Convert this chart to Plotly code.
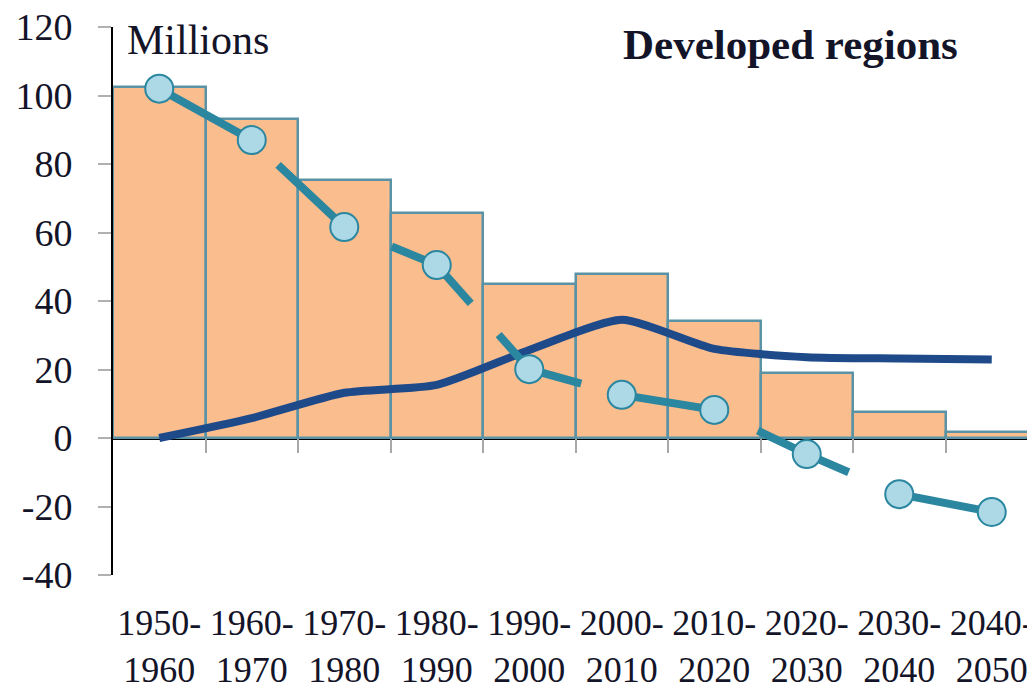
import plotly.graph_objects as go

categories = ["1950-<br>1960", "1960-<br>1970", "1970-<br>1980", "1980-<br>1990", "1990-<br>2000",
              "2000-<br>2010", "2010-<br>2020", "2020-<br>2030", "2030-<br>2040", "2040-<br>2050"]
bar_values = [102.5, 93.2, 75.2, 65.6, 45.0, 47.8, 34.2, 19.0, 7.6, 1.8]
navy_values = [0.0, 5.8, 13.2, 15.5, 25.7, 34.5, 26.0, 23.6, 23.2, 22.9]
teal_values = [102.0, 87.0, 61.6, 50.5, 20.1, 12.6, 8.2, -4.7, -16.4, -21.6]
y_ticks = [-40, -20, 0, 20, 40, 60, 80, 100, 120]
y_ticktext = ["-40", "-20", "0", "20", "40", "60", "80", "100", "120"]

FONT = "Liberation Serif, Times New Roman, serif"
TXT = "#141428"

fig = go.Figure()
fig.add_trace(go.Bar(
    x=categories, y=bar_values,
    marker=dict(color="#FABD8E", line=dict(color="#5A93A6", width=2.5)),
    width=1.0, showlegend=False,
))
fig.add_trace(go.Scatter(
    x=categories, y=navy_values, mode="lines",
    line=dict(color="#1E4A8A", width=8, shape="spline", smoothing=0.6),
    showlegend=False,
))
fig.add_trace(go.Scatter(
    x=categories, y=teal_values, mode="lines",
    line=dict(color="#2B86A0", width=8, dash="100px,42px"),
    showlegend=False,
))
fig.add_trace(go.Scatter(
    x=categories, y=teal_values, mode="markers",
    marker=dict(size=28, color="#ADD8E6", line=dict(color="#2B86A0", width=2)),
    showlegend=False,
))

n = len(categories)
xr = [-0.5, n - 0.5]

fig.update_layout(
    width=1035, height=689,
    margin=dict(l=105, r=5, t=19, b=122),
    plot_bgcolor="white", paper_bgcolor="white",
    bargap=0,
    font=dict(family=FONT, color=TXT, size=36),
    xaxis=dict(
        type="category", range=xr, showline=False, ticks="", showgrid=False,
        zeroline=False, tickfont=dict(size=36, family=FONT, color=TXT),
        ticklabelstandoff=23, automargin=False, ticklabeloverflow="allow",
    ),
    xaxis2=dict(
        overlaying="x", anchor="free", position=0.25, range=xr,
        tickvals=[i + 0.5 for i in range(n - 1)], showticklabels=False,
        ticks="outside", ticklen=14, tickwidth=2, tickcolor="#A8A8A8",
        showline=False, showgrid=False, zeroline=False, automargin=False,
    ),
    yaxis=dict(
        range=[-40, 120], tickvals=y_ticks, ticktext=y_ticktext, showgrid=False,
        showline=True, linecolor="black", linewidth=2,
        ticks="outside", ticklen=13, tickwidth=2, tickcolor="#B0B0B0",
        zeroline=True, zerolinecolor="black", zerolinewidth=2.5,
        tickfont=dict(size=38, family=FONT, color=TXT),
        ticklabelstandoff=18, automargin=False, ticklabeloverflow="allow",
    ),
    annotations=[
        dict(text="Millions", xref="paper", yref="paper", x=0.013, y=1.0, yshift=12,
             xanchor="left", yanchor="top", showarrow=False,
             font=dict(size=42, family=FONT, color=TXT)),
        dict(text="<b>Developed regions</b>", xref="paper", yref="paper", x=0.732, y=1.0, yshift=8,
             xanchor="center", yanchor="top", showarrow=False,
             font=dict(size=43, family=FONT, color=TXT)),
    ],
)
# invisible trace to activate xaxis2
fig.add_trace(go.Scatter(x=[0], y=[0], xaxis="x2", mode="markers",
                         marker=dict(opacity=0), showlegend=False, hoverinfo="skip"))

fig.write_html("out.html")
